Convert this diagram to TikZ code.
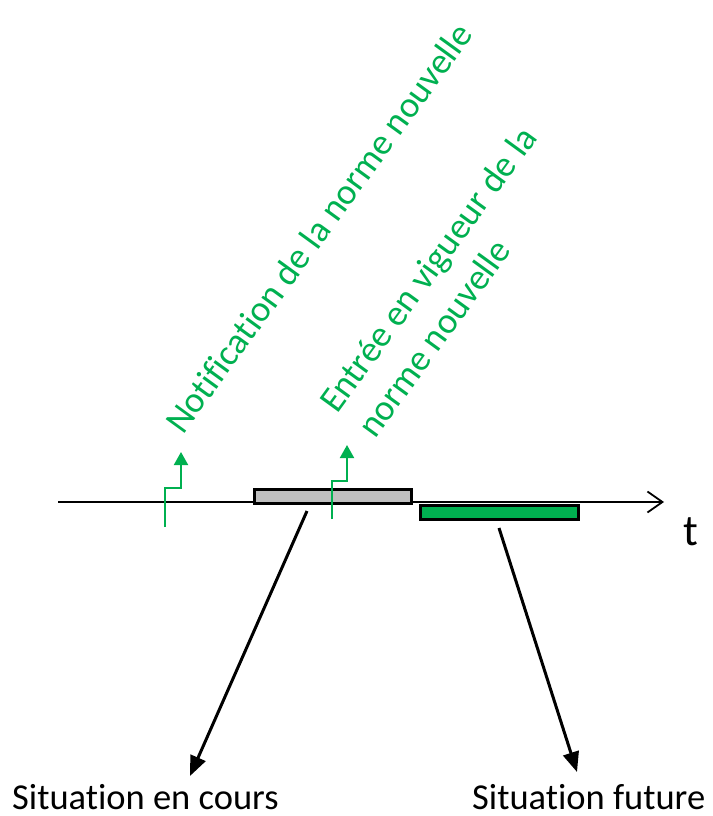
\documentclass[tikz,border=0pt]{standalone}
\usepackage{fontspec}
\setmainfont{Carlito}[Ligatures={NoCommon,NoRequired,NoContextual}]
\usetikzlibrary{arrows.meta}
\definecolor{mgreen}{HTML}{00B050}
\definecolor{mgray}{HTML}{BFBFBF}
\tikzset{
  axisline/.style={line width=1.5pt, -{Straight Barb[length=15pt,width=21pt,line width=1.8pt]}},
  period/.style={draw=black, line width=3pt},
  marker/.style={draw=mgreen, line width=2pt, -{Triangle[length=13pt,width=14pt]}},
  pointer/.style={draw=black, line width=3pt, -{Triangle[length=20pt,width=16pt]}},
  greenlabel/.style={text=mgreen, font=\fontsize{36.5}{44}\selectfont, inner sep=0pt, anchor=base west, rotate=54},
  blacklabel/.style={text=black, font=\fontsize{36.5}{44}\selectfont, inner sep=0pt, anchor=base west}
}
\begin{document}
\begin{tikzpicture}[x=1pt,y=-1pt]
\useasboundingbox (0,0) rectangle (712,816);
% axis
\coordinate (ax0) at (58,502);
\coordinate (ax1) at (664,502);
\draw[axisline] (ax0) -- (ax1);
\node[blacklabel, font=\fontsize{44}{50}\selectfont] (t) at (683,545) {t};
% periods
\path[period, fill=mgray] (254,489) rectangle (411,503);
\path[period, fill=mgreen] (420,505) rectangle (578,519);
% markers
\coordinate (m1) at (165,527);
\coordinate (m1t) at (181,452);
\draw[marker] (m1) -- (165,488) -- (181,488) -- (m1t);
\coordinate (m2) at (332,519);
\coordinate (m2t) at (347,445);
\draw[marker] (m2) -- (332,481) -- (347,481) -- (m2t);
% green labels
\node[greenlabel] (notif) at (183,436) {Notification de la norme nouvelle};
\node[greenlabel] (entree1) at (337,415) {Entrée en vigueur de la};
\node[greenlabel] (entree2) at (375,440) {norme nouvelle};
% pointers
\coordinate (p1s) at (307,511);
\coordinate (p1e) at (190,776);
\draw[pointer] (p1s) -- (p1e);
\coordinate (p2s) at (499,528);
\coordinate (p2e) at (577,772);
\draw[pointer] (p2s) -- (p2e);
% bottom labels
\node[blacklabel] (cours) at (12,809) {Situation en cours};
\node[blacklabel] (future) at (472,809) {Situation future};
\end{tikzpicture}
\end{document}
